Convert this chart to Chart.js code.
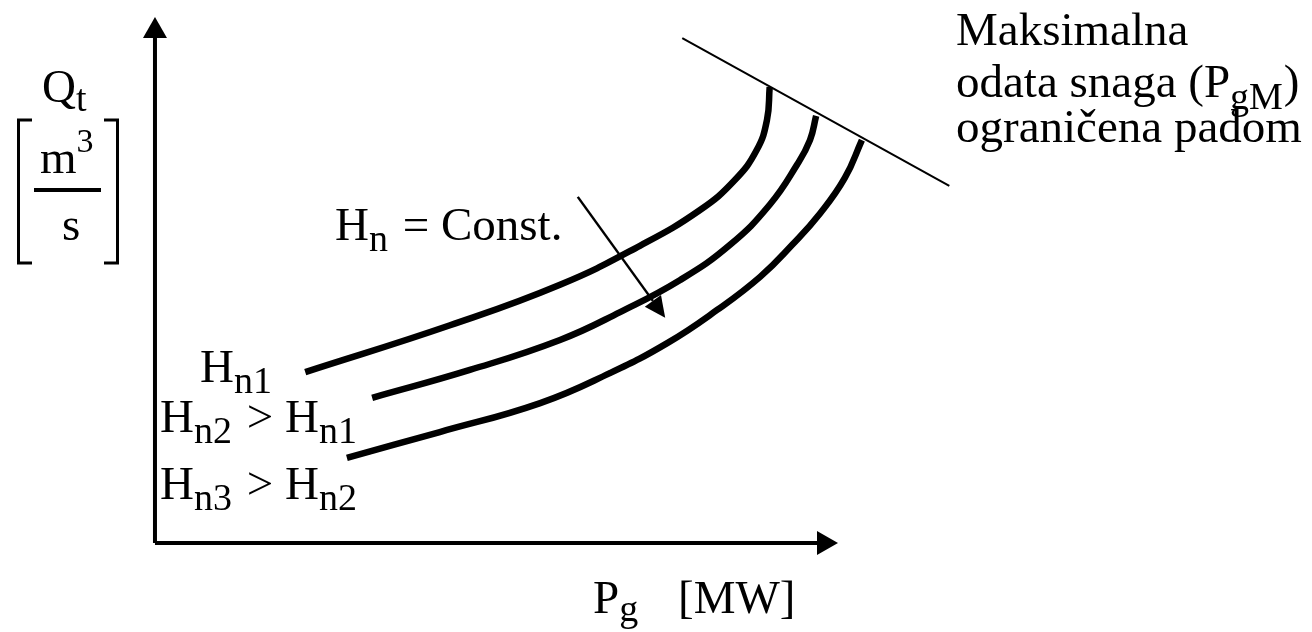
<!DOCTYPE html>
<html lang="sr">
<head>
<meta charset="UTF-8">
<title>Qt - Pg karakteristika</title>
<script src="https://cdn.jsdelivr.net/npm/chart.js"></script>
<style>
    html, body { margin: 0; padding: 0; background: #fff; }
    canvas { display: block; }
</style>
</head>
<body>
<canvas id="chart" width="1312" height="632"></canvas>
<script>
    // axes run 0..100 in relative units (P_g horizontal, Q_t vertical)
    const axisP = [0, 100];
    const axisQ = [0, 100];

    // Q_t(P_g) for the three heads
    const hn1P = [22.0, 43.2, 59.3, 71.0, 79.8, 84.9, 88.1, 89.6, 90.0];
    const hn1Q = [32.5, 41.4, 49.1, 56.5, 63.3, 69.0, 74.7, 80.4, 86.7];

    const hn2P = [31.8, 46.1, 59.3, 68.1, 76.9, 84.2, 90.0, 94.0, 95.9, 96.8];
    const hn2Q = [27.6, 32.9, 38.6, 43.9, 50.0, 56.7, 64.3, 71.9, 76.6, 81.2];

    const hn3P = [28.1, 41.7, 56.4, 66.6, 75.0, 82.3, 88.6, 93.3, 97.4, 101.0, 103.5];
    const hn3Q = [16.2, 21.1, 26.6, 32.3, 38.0, 44.3, 50.6, 56.7, 62.7, 69.4, 76.6];

    // limit line (max power limited by head)
    const limitP = [77.2, 116.3];
    const limitQ = [96.0, 67.9];

    // "Hn = Const." direction arrow
    const dirP = [61.9, 74.7];
    const dirQ = [65.8, 42.8];

    const pts = (xs, ys) => xs.map((x, i) => ({ x: x, y: ys[i] }));

    const FONT = '"Liberation Serif", "Times New Roman", serif';

    // rich text labels: parts with optional sub/sup
    const labels = [
        { x: 42, y: 102, parts: [{ t: 'Q' }, { t: 't', sub: true, dy: 9 }] },
        { x: 40, y: 173, parts: [{ t: 'm' }, { t: '3', sup: true }] },
        { x: 62, y: 240, parts: [{ t: 's' }] },
        { x: 335, y: 240, parts: [{ t: 'H' }, { t: 'n', sub: true }, { t: ' = Const.', dx: 3 }] },
        { x: 200, y: 382, parts: [{ t: 'H' }, { t: 'n1', sub: true }] },
        { x: 160, y: 432, parts: [{ t: 'H' }, { t: 'n2', sub: true }, { t: ' > H', dx: 3 }, { t: 'n1', sub: true }] },
        { x: 160, y: 499, parts: [{ t: 'H' }, { t: 'n3', sub: true }, { t: ' > H', dx: 3 }, { t: 'n2', sub: true }] },
        { x: 593, y: 613, parts: [{ t: 'P' }, { t: 'g', sub: true, dy: 8 }] },
        { x: 678, y: 613, parts: [{ t: '[MW]' }] },
        { x: 956, y: 45, parts: [{ t: 'Maksimalna' }] },
        { x: 956, y: 97, parts: [{ t: 'odata snaga (P' }, { t: 'gM', sub: true, dy: 12 }, { t: ')', dx: 1 }] },
        { x: 956, y: 142, parts: [{ t: 'ograničena padom' }] }
    ];

    function drawRich(ctx, x, y, parts) {
        let cx = x;
        for (const p of parts) {
            const size = p.sub ? 38 : (p.sup ? 34 : 47);
            const dy = p.sub ? (p.dy || 11) : (p.sup ? -21 : 0);
            ctx.font = size + 'px ' + FONT;
            cx += p.dx || 0;
            ctx.fillText(p.t, cx, y + dy);
            cx += ctx.measureText(p.t).width;
        }
    }

    function arrowGeom(ds, meta) {
        const el = meta.data;
        const a = el[el.length - 2], b = el[el.length - 1];
        const d = Math.hypot(b.x - a.x, b.y - a.y);
        const ux = (b.x - a.x) / d, uy = (b.y - a.y) / d;
        return { tip: b, ux: ux, uy: uy, bx: b.x - ux * ds.arrow.len, by: b.y - uy * ds.arrow.len };
    }

    // arrow heads at the last point of datasets with an "arrow" option
    const arrowHeads = {
        id: 'arrowHeads',
        beforeDatasetDraw(chart, args) {
            const ds = chart.data.datasets[args.index];
            if (!ds.arrow) return;
            const g = arrowGeom(ds, args.meta);
            const R = 4000, ctx = chart.ctx;
            // cut the shaft at the arrow base so it does not poke through the tip
            ctx.save();
            ctx.beginPath();
            ctx.moveTo(g.bx - g.uy * R, g.by + g.ux * R);
            ctx.lineTo(g.bx + g.uy * R, g.by - g.ux * R);
            ctx.lineTo(g.bx + g.uy * R - g.ux * R, g.by - g.ux * R - g.uy * R);
            ctx.lineTo(g.bx - g.uy * R - g.ux * R, g.by + g.ux * R - g.uy * R);
            ctx.closePath();
            ctx.clip();
        },
        afterDatasetDraw(chart, args) {
            const ds = chart.data.datasets[args.index];
            if (!ds.arrow) return;
            const ctx = chart.ctx;
            ctx.restore();
            const g = arrowGeom(ds, args.meta);
            const hw = ds.arrow.width / 2;
            ctx.save();
            ctx.fillStyle = '#000';
            ctx.beginPath();
            ctx.moveTo(g.tip.x, g.tip.y);
            ctx.lineTo(g.bx - g.uy * hw, g.by + g.ux * hw);
            ctx.lineTo(g.bx + g.uy * hw, g.by - g.ux * hw);
            ctx.closePath();
            ctx.fill();
            ctx.restore();
        }
    };

    const textLayer = {
        id: 'textLayer',
        afterDraw(chart) {
            const ctx = chart.ctx;
            const L = chart.chartArea.left, T = chart.chartArea.top;
            ctx.save();
            ctx.fillStyle = '#000';
            ctx.strokeStyle = '#000';
            ctx.textBaseline = 'alphabetic';
            labels.forEach(l => drawRich(ctx, L + l.x, T + l.y, l.parts));

            // fraction bar of m^3/s
            ctx.lineWidth = 4;
            ctx.beginPath();
            ctx.moveTo(L + 34, T + 190);
            ctx.lineTo(L + 101, T + 190);
            ctx.stroke();

            // tall brackets around the unit
            ctx.lineWidth = 3;
            ctx.lineJoin = 'miter';
            ctx.beginPath();
            ctx.moveTo(L + 32, T + 120);
            ctx.lineTo(L + 18.5, T + 120);
            ctx.lineTo(L + 18.5, T + 263);
            ctx.lineTo(L + 32, T + 263);
            ctx.moveTo(L + 104, T + 120);
            ctx.lineTo(L + 117.5, T + 120);
            ctx.lineTo(L + 117.5, T + 263);
            ctx.lineTo(L + 104, T + 263);
            ctx.stroke();
            ctx.restore();
        }
    };

    const line = (data, width, extra) => Object.assign({
        data: data,
        showLine: true,
        borderColor: '#000',
        backgroundColor: '#000',
        borderWidth: width,
        pointRadius: 0,
        fill: false,
        clip: false
    }, extra || {});

    const curve = { tension: 0.45, borderCapStyle: 'butt', borderJoinStyle: 'round' };

    const ctx = document.getElementById('chart').getContext('2d');
    new Chart(ctx, {
        type: 'scatter',
        data: {
            datasets: [
                line(pts([axisP[0], axisP[1]], [0, 0]), 4, { arrow: { len: 21, width: 24 } }),
                line(pts([0, 0], [axisQ[0], axisQ[1]]), 4, { arrow: { len: 21, width: 24 } }),
                line(pts(hn1P, hn1Q), 6.5, curve),
                line(pts(hn2P, hn2Q), 6.5, curve),
                line(pts(hn3P, hn3Q), 6.5, curve),
                line(pts(limitP, limitQ), 2),
                line(pts(dirP, dirQ), 2.5, { arrow: { len: 21, width: 20 } })
            ]
        },
        options: {
            responsive: false,
            animation: false,
            events: [],
            layout: { padding: 0 },
            plugins: {
                legend: { display: false },
                tooltip: { enabled: false }
            },
            scales: {
                // 0..100 spans pixels 155..838 horizontally and 543..17 vertically
                x: { type: 'linear', display: false, min: -22.69, max: 169.40 },
                y: { type: 'linear', display: false, min: -16.92, max: 103.23 }
            }
        },
        plugins: [arrowHeads, textLayer]
    });
</script>
</body>
</html>
